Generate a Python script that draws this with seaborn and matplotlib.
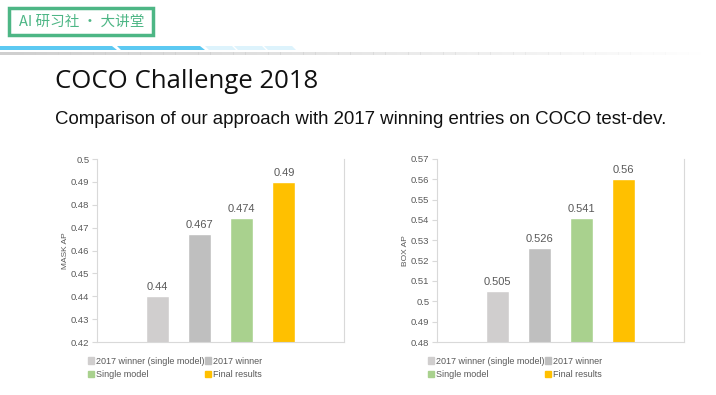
import pandas as pd
import matplotlib.pyplot as plt
import seaborn as sns
from matplotlib.patches import Rectangle, Polygon

# data
entries = ['2017 winner (single model)', '2017 winner', 'Single model', 'Final results']
mask_ap = [0.44, 0.467, 0.474, 0.49]
box_ap = [0.505, 0.526, 0.541, 0.56]
mask_ticks = [0.42, 0.43, 0.44, 0.45, 0.46, 0.47, 0.48, 0.49, 0.5]
box_ticks = [0.48, 0.49, 0.5, 0.51, 0.52, 0.53, 0.54, 0.55, 0.56, 0.57]
colors = ['#D0CECE', '#BFBFBF', '#A9D18E', '#FFC000']

sns.set_theme(style='white')
plt.rcParams['font.family'] = ['Liberation Sans', 'DejaVu Sans']

W, H = 716, 395
fig = plt.figure(figsize=(W / 100, H / 100), dpi=100)

# header banner (pixel coordinates)
hd = fig.add_axes([0, 1 - 60 / H, 1, 60 / H])
hd.set_xlim(0, W)
hd.set_ylim(60, 0)
hd.axis('off')
hd.add_patch(Rectangle((9, 8), 144, 27, fill=False, ec='#4DB685', lw=2.5))
hd.text(19, 22, 'AI 研习社 · 大讲堂', family=['Noto Sans CJK SC', 'DejaVu Sans'],
        fontsize=10.5, color='#4DB685', va='center', ha='left', weight='medium')
hd.add_patch(Polygon([(0, 46), (112, 46), (117, 50), (0, 50)], color='#5CC9F2', lw=0))
hd.add_patch(Polygon([(117, 46), (200, 46), (205, 50), (121, 50)], color='#5CC9F2', lw=0))
for x0, x1 in [(205, 232), (234, 262), (264, 292)]:
    hd.add_patch(Polygon([(x0, 46), (x1, 46), (x1 + 4, 50), (x0 + 4, 50)], color='#DDF3FC', lw=0))
n = 60
for i in range(n):
    a = 1 - i / n
    hd.add_patch(Rectangle((i * 700 / n, 52), 700 / n + 0.5, 2.5, color='#CFCFCF', alpha=a, lw=0))

fig.text(55 / W, 1 - 82 / H, 'COCO Challenge 2018', family=['Open Sans', 'DejaVu Sans'],
         fontsize=18.5, color='#111111', va='center', ha='left')
fig.text(55 / W, 1 - 120 / H, 'Comparison of our approach with 2017 winning entries on COCO test-dev.',
         fontsize=13.4, color='#111111', va='center', ha='left')


def draw_panel(left_px, values, ticks, ylabel):
    ax = fig.add_axes([left_px / W, 1 - 342 / H, 247 / W, (342 - 159) / H])
    sns.barplot(x=['COCO'] * len(values), y=values, hue=entries, hue_order=entries,
                palette=colors, saturation=1, width=0.8, gap=0.45, legend=False, ax=ax)
    ax.set_xlim(-0.585, 0.585)
    ax.set_ylim(ticks[0], ticks[-1])
    ax.set_yticks(ticks)
    ax.set_yticklabels([f'{t:g}' for t in ticks])
    ax.set_xticks([])
    ax.set_xlabel('')
    ax.set_ylabel(ylabel, fontsize=6, color='#595959', labelpad=1.5)
    ax.tick_params(axis='y', left=True, length=3.5, width=0.8, color='#D9D9D9',
                   labelsize=6.8, labelcolor='#595959', pad=2)
    for side in ['left', 'bottom', 'right']:
        ax.spines[side].set_color('#D9D9D9')
        ax.spines[side].set_linewidth(0.8)
    ax.spines['top'].set_visible(False)
    for cont in ax.containers:
        ax.bar_label(cont, labels=[f'{v:g}' for v in cont.datavalues], padding=3,
                     fontsize=8, color='#595959')
    # legend reads row by row, matplotlib fills columns first
    order = [0, 2, 1, 3]
    handles = [Rectangle((0, 0), 1, 1, color=colors[i]) for i in order]
    ax.legend(handles, [entries[i] for i in order], ncol=2, loc='upper left',
              bbox_to_anchor=((left_px - 14) / W, 1 - 352 / H), bbox_transform=fig.transFigure,
              frameon=False, fontsize=6.5, labelcolor='#595959', handlelength=0.7,
              handleheight=0.7, handletextpad=0.2, columnspacing=0.1, borderpad=0,
              labelspacing=0.5)
    return ax


draw_panel(97, mask_ap, mask_ticks, 'MASK AP')
draw_panel(437, box_ap, box_ticks, 'BOX AP')

fig.savefig('out.png', dpi=100, facecolor='white')
